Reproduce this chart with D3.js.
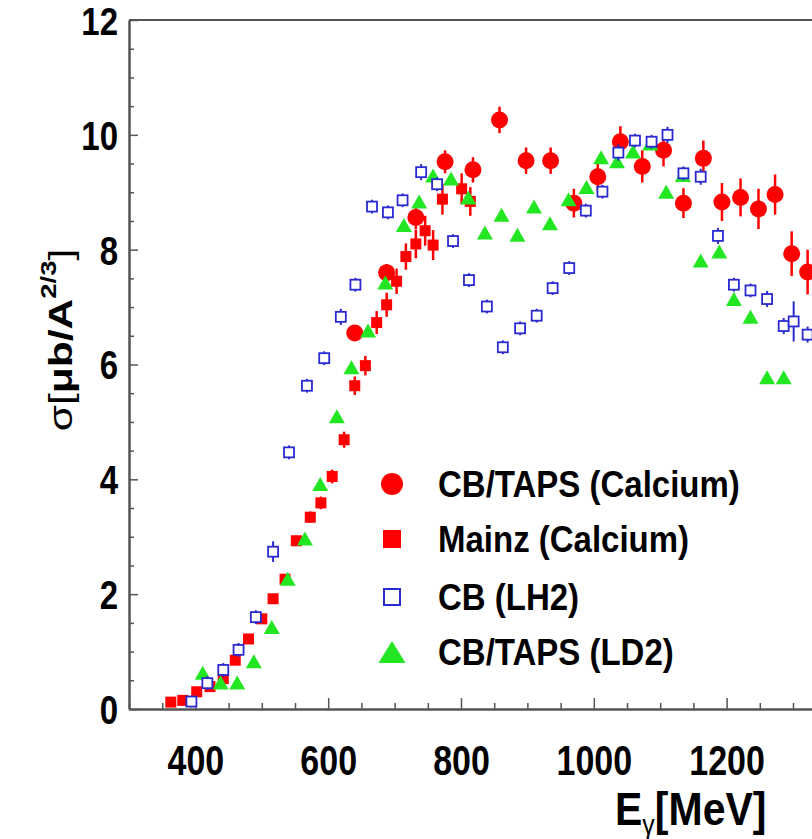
<!DOCTYPE html>
<html><head><meta charset="utf-8">
<script src="https://cdn.jsdelivr.net/npm/d3@7"></script>
<style>
html,body{margin:0;padding:0;background:#fff;}
svg{display:block;}
text{font-family:"Liberation Sans",Arial,sans-serif;font-weight:bold;fill:#000;}
</style></head>
<body>
<svg id="chart" width="812" height="839"></svg>
<script>
// ---- data ----
const cbtapsCaE   = [640, 688, 732, 776, 818, 858, 898, 935, 970, 1006, 1040, 1073, 1105, 1135, 1165, 1193, 1221, 1248, 1273, 1298, 1322];
const cbtapsCaV   = [6.55, 7.60, 8.56, 9.53, 9.39, 10.26, 9.55, 9.55, 8.81, 9.27, 9.88, 9.45, 9.73, 8.81, 9.59, 8.83, 8.91, 8.71, 8.96, 7.93, 7.61];
const cbtapsCaErr = [0.12, 0.15, 0.20, 0.20, 0.22, 0.23, 0.23, 0.23, 0.25, 0.25, 0.27, 0.28, 0.28, 0.26, 0.31, 0.33, 0.33, 0.35, 0.35, 0.39, 0.39];

const mainzE   = [363, 381, 402, 422, 442, 460, 480, 500, 517, 535, 552, 573, 589, 606, 624, 640, 656, 673, 688, 703, 717, 732, 746, 758, 772, 801, 814];
const mainzV   = [0.12, 0.15, 0.30, 0.39, 0.53, 0.85, 1.22, 1.57, 1.92, 2.26, 2.93, 3.34, 3.59, 4.05, 4.69, 5.63, 5.98, 6.73, 7.04, 7.45, 7.88, 8.10, 8.33, 8.08, 8.88, 9.06, 8.84];
const mainzErr = [0.03, 0.03, 0.04, 0.04, 0.05, 0.05, 0.06, 0.06, 0.07, 0.08, 0.09, 0.10, 0.11, 0.12, 0.14, 0.16, 0.17, 0.20, 0.21, 0.22, 0.23, 0.25, 0.26, 0.26, 0.27, 0.27, 0.25];

const lh2E   = [394, 418, 442, 465, 491, 517, 541, 568, 594, 619, 641, 666, 690, 712, 740, 764, 788, 812, 839, 863, 889, 914, 938, 963, 988, 1013, 1037, 1062, 1087, 1111, 1135, 1161, 1187, 1211, 1236, 1261, 1286, 1301, 1322];
const lh2V   = [0.13, 0.45, 0.68, 1.03, 1.60, 2.74, 4.47, 5.63, 6.11, 6.83, 7.39, 8.75, 8.65, 8.86, 9.35, 9.14, 8.15, 7.47, 7.01, 6.30, 6.63, 6.85, 7.33, 7.68, 8.68, 9.01, 9.69, 9.90, 9.88, 10.00, 9.33, 9.27, 8.24, 7.39, 7.29, 7.14, 6.67, 6.75, 6.52];
const lh2Err = [0.10, 0.12, 0.12, 0.12, 0.12, 0.18, 0.12, 0.12, 0.12, 0.14, 0.12, 0.12, 0.12, 0.12, 0.14, 0.12, 0.12, 0.12, 0.12, 0.12, 0.12, 0.12, 0.12, 0.12, 0.12, 0.12, 0.14, 0.12, 0.12, 0.14, 0.12, 0.14, 0.14, 0.12, 0.12, 0.14, 0.14, 0.35, 0.14];

const ld2E = [411, 438, 463, 488, 515, 539, 565, 588, 613, 635, 660, 686, 714, 737, 758, 785, 811, 836, 861, 885, 910, 934, 962, 989, 1011, 1035, 1059, 1085, 1109, 1134, 1161, 1189, 1211, 1236, 1261, 1286];
const ld2V = [0.63, 0.46, 0.46, 0.83, 1.43, 2.27, 2.97, 3.92, 5.10, 5.95, 6.59, 7.43, 8.43, 8.84, 9.29, 9.24, 8.91, 8.30, 8.61, 8.26, 8.75, 8.46, 8.88, 9.09, 9.61, 9.54, 9.71, 9.85, 9.01, 9.30, 7.81, 7.97, 7.14, 6.83, 5.78, 5.78];

const seriesNames = ["CB/TAPS (Calcium)", "Mainz (Calcium)", "CB (LH2)", "CB/TAPS (LD2)"];
const xTickLabels = [400, 600, 800, 1000, 1200];
const yTickLabels = [0, 2, 4, 6, 8, 10, 12];

// ---- chart ----
const RED = "#ff0000", BLUE = "#2a2ad0", GREEN = "#22e622", AXIS = "#555";
const svg = d3.select("#chart");
const x = d3.scaleLinear().domain([300, 1500]).range([129, 129 + 1200 * 0.664]);
const y = d3.scaleLinear().domain([0, 12]).range([709, 20]);
const SY = 1.25; // vertical stretch of text

// frame top line
svg.append("line").attr("x1", x(300)).attr("x2", x(1500)).attr("y1", y(12)).attr("y2", y(12))
  .attr("stroke", AXIS).attr("stroke-width", 2);

// Y axis
const yMinor = d3.range(0, 12.01, 0.5).filter(v => v % 2 !== 0);
const gy = svg.append("g").attr("transform", `translate(${x(300)},0)`);
gy.call(d3.axisLeft(y).tickValues(yMinor).tickSize(-5).tickSizeOuter(0).tickFormat(""));
const gy2 = svg.append("g").attr("transform", `translate(${x(300)},0)`);
gy2.call(d3.axisLeft(y).tickValues(yTickLabels).tickSize(-9).tickSizeOuter(0).tickPadding(11).tickFormat(d3.format("d")));
[gy, gy2].forEach(g => {
  g.selectAll("path.domain").attr("stroke", AXIS).attr("stroke-width", 2);
  g.selectAll(".tick line").attr("stroke", AXIS).attr("stroke-width", 1.5);
});
gy2.selectAll(".tick text").attr("fill", "#000").style("font-size", "33px")
  .attr("dy", null).attr("y", null).attr("dominant-baseline", "central")
  .attr("transform", (d) => d === 12 ? `translate(0,1) scale(1,1.2)` : `scale(1,${SY})`);

// X axis
const xMinor = d3.range(300, 1501, 50).filter(v => v % 200 !== 0);
const gx = svg.append("g").attr("transform", `translate(0,${y(0)})`);
gx.call(d3.axisBottom(x).tickValues(xMinor).tickSize(-6).tickSizeOuter(0).tickFormat(""));
const gx2 = svg.append("g").attr("transform", `translate(0,${y(0)})`);
gx2.call(d3.axisBottom(x).tickValues(xTickLabels).tickSize(-11).tickSizeOuter(0).tickFormat(d3.format("d")));
[gx, gx2].forEach(g => {
  g.selectAll("path.domain").attr("stroke", AXIS).attr("stroke-width", 2);
  g.selectAll(".tick line").attr("stroke", AXIS).attr("stroke-width", 1.5);
});
gx2.selectAll(".tick text").attr("fill", "#000").style("font-size", "34px")
  .attr("y", null).attr("dy", null).attr("dominant-baseline", "central")
  .attr("transform", `translate(0,51) scale(1,${SY})`);

// ---- markers ----
function errBars(E, V, Err, color, w) {
  svg.append("g").selectAll("line").data(E).join("line")
    .attr("x1", (d) => x(d)).attr("x2", (d) => x(d))
    .attr("y1", (d, i) => y(V[i] - Err[i])).attr("y2", (d, i) => y(V[i] + Err[i]))
    .attr("stroke", color).attr("stroke-width", w);
}
// circles
errBars(cbtapsCaE, cbtapsCaV, cbtapsCaErr, RED, 2.5);
svg.append("g").selectAll("circle").data(cbtapsCaE).join("circle")
  .attr("cx", d => x(d)).attr("cy", (d, i) => y(cbtapsCaV[i])).attr("r", 8.5).attr("fill", RED);
// red squares
errBars(mainzE, mainzV, mainzErr, RED, 2.5);
svg.append("g").selectAll("rect").data(mainzE).join("rect")
  .attr("x", d => x(d) - 5.5).attr("y", (d, i) => y(mainzV[i]) - 5.5).attr("width", 11).attr("height", 11).attr("fill", RED);
// green triangles
const tri = (cx, cy, w, h) => `M${cx - w/2},${cy + h/2}L${cx + w/2},${cy + h/2}L${cx},${cy - h/2}Z`;
svg.append("g").selectAll("path").data(ld2E).join("path")
  .attr("d", (d, i) => tri(x(d), y(ld2V[i]), 16, 14)).attr("fill", GREEN);
// blue open squares
errBars(lh2E, lh2V, lh2Err, BLUE, 2);
svg.append("g").selectAll("rect").data(lh2E).join("rect")
  .attr("x", d => x(d) - 5).attr("y", (d, i) => y(lh2V[i]) - 5).attr("width", 10).attr("height", 10)
  .attr("fill", "#fff").attr("stroke", BLUE).attr("stroke-width", 1.8);

// ---- legend ----
const legY = [484, 539, 597, 652];
const lx = 392;
const lg = svg.append("g");
lg.append("circle").attr("cx", lx).attr("cy", legY[0]).attr("r", 11).attr("fill", RED);
lg.append("rect").attr("x", lx - 9).attr("y", legY[1] - 9).attr("width", 18).attr("height", 18).attr("fill", RED);
lg.append("rect").attr("x", lx - 8).attr("y", legY[2] - 8).attr("width", 16).attr("height", 16)
  .attr("fill", "#fff").attr("stroke", BLUE).attr("stroke-width", 2);
lg.append("path").attr("d", tri(lx, legY[3], 27, 22)).attr("fill", GREEN);
lg.selectAll("text").data(seriesNames).join("text")
  .attr("transform", (d, i) => `translate(438,${legY[i]}) scale(1,1.1)`)
  .attr("dominant-baseline", "central").style("font-size", "33px").text(d => d);

// ---- axis titles ----
const xt = svg.append("text").attr("transform", `translate(615,825) scale(1,1.12)`).style("font-size", "41px");
xt.append("tspan").text("E");
xt.append("tspan").attr("dy", 8).style("font-size", "25px").style("font-weight", "normal").text("γ");
xt.append("tspan").attr("dy", -8).text("[MeV]");

const yt = svg.append("text").attr("transform", `translate(72,340) rotate(-90) scale(${SY},1)`)
  .attr("text-anchor", "middle").style("font-size", "34px");
yt.append("tspan").style("font-weight", "normal").text("σ[");
yt.append("tspan").text("μb/A");
yt.append("tspan").attr("dy", -16).style("font-size", "22px").text("2/3");
yt.append("tspan").attr("dy", 16).style("font-weight", "normal").text("]");
</script>
</body></html>
